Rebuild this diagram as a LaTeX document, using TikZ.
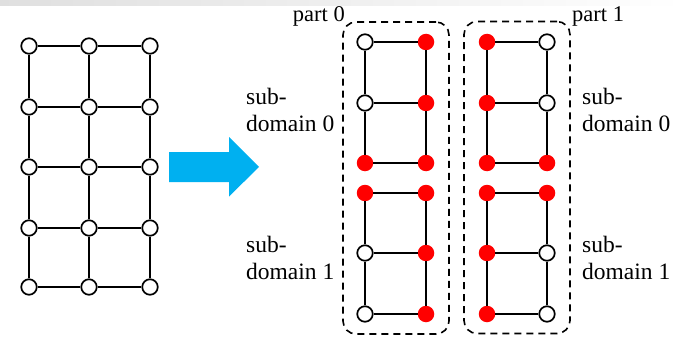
\documentclass[tikz,border=0pt]{standalone}
\usepackage{fontspec}
\setmainfont{Liberation Serif}
\begin{document}
\begin{tikzpicture}[x=1pt,y=-1pt,
  wn/.style={circle,draw=black,fill=white,line width=1.7pt,minimum size=15.5pt,inner sep=0pt},
  rn/.style={circle,fill=red,draw=none,minimum size=16.5pt,inner sep=0pt},
  edge/.style={line width=2pt,black},
  lbl/.style={inner sep=0pt,font=\fontsize{23.5}{27}\selectfont},
  plbl/.style={inner sep=0pt,font=\fontsize{22.5}{26}\selectfont},
  partbox/.style={draw=black,line width=1.6pt,dash pattern=on 7pt off 5pt,rounded corners=13pt,inner sep=0pt,minimum width=106pt,minimum height=312pt}
]
\useasboundingbox (0,0) rectangle (683,337);
\shade[left color=gray!25,right color=white] (0,0) rectangle (683,6);

% left grid
\foreach \c/\x in {0/29,1/89,2/150}{
  \foreach \r/\y in {0/46,1/107,2/167,3/228,4/287}{
    \node[wn] (g\c\r) at (\x,\y) {};
  }
}
\foreach \c in {0,1,2}{
  \foreach \r/\s in {0/1,1/2,2/3,3/4}{
    \draw[edge] (g\c\r) -- (g\c\s);
  }
}
\foreach \r in {0,1,2,3,4}{
  \draw[edge] (g0\r) -- (g1\r);
  \draw[edge] (g1\r) -- (g2\r);
}

% arrow
\fill[fill={rgb,255:red,0;green,176;blue,240}] (169,152) -- (229,152) -- (229,137) -- (259,167) -- (229,196.5) -- (229,182) -- (169,182) -- cycle;

% part 0
\node[wn] (a00) at (365,42) {};
\node[rn] (a10) at (426,42) {};
\node[wn] (a01) at (365,103) {};
\node[rn] (a11) at (426,103) {};
\node[rn] (a02) at (365,163) {};
\node[rn] (a12) at (426,163) {};
\node[rn] (a03) at (365,193) {};
\node[rn] (a13) at (426,193) {};
\node[wn] (a04) at (365,253) {};
\node[rn] (a14) at (426,253) {};
\node[wn] (a05) at (365,314) {};
\node[rn] (a15) at (426,314) {};

% part 1
\node[rn] (b00) at (487,42) {};
\node[wn] (b10) at (547,42) {};
\node[rn] (b01) at (487,103) {};
\node[wn] (b11) at (547,103) {};
\node[rn] (b02) at (487,163) {};
\node[rn] (b12) at (547,163) {};
\node[rn] (b03) at (487,193) {};
\node[rn] (b13) at (547,193) {};
\node[rn] (b04) at (487,253) {};
\node[wn] (b14) at (547,253) {};
\node[rn] (b05) at (487,314) {};
\node[wn] (b15) at (547,314) {};

\foreach \p in {a,b}{
  \foreach \r in {0,1,2,3,4,5}{
    \draw[edge] (\p0\r) -- (\p1\r);
  }
  \foreach \c in {0,1}{
    \draw[edge] (\p\c0) -- (\p\c1);
    \draw[edge] (\p\c1) -- (\p\c2);
    \draw[edge] (\p\c3) -- (\p\c4);
    \draw[edge] (\p\c4) -- (\p\c5);
  }
}

% dashed part boxes
\node[partbox] (p0) at (396,178) {};
\node[partbox] (p1) at (517,177.5) {};

% labels
\node[plbl,anchor=base east] (t0) at (345,22) {part 0};
\node[plbl,anchor=base west] (t1) at (572,22) {part 1};

\node[lbl,anchor=base west] (l0a) at (246,104) {sub-};
\node[lbl,anchor=base west] (l0b) at (246,131) {domain 0};
\node[lbl,anchor=base west] (l1a) at (246,252) {sub-};
\node[lbl,anchor=base west] (l1b) at (246,279) {domain 1};

\node[lbl,anchor=base west] (r0a) at (582,104) {sub-};
\node[lbl,anchor=base west] (r0b) at (582,131) {domain 0};
\node[lbl,anchor=base west] (r1a) at (582,252) {sub-};
\node[lbl,anchor=base west] (r1b) at (582,279) {domain 1};
\end{tikzpicture}
\end{document}
